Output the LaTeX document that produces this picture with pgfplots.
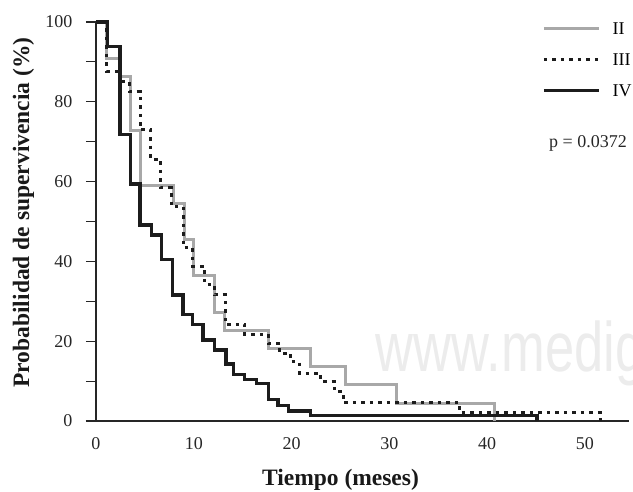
\documentclass[border=0pt]{standalone}
\usepackage{fontspec}
\setmainfont{Liberation Serif}
\newfontfamily\wmfont{Liberation Sans}
\usepackage{pgfplots}
\pgfplotsset{compat=1.18}
\definecolor{grayII}{HTML}{A8A8A8}
\definecolor{blackIV}{HTML}{1C1C1C}
\definecolor{wm}{HTML}{ECECEC}
\begin{document}
\begin{tikzpicture}
\useasboundingbox (-96pt,-70pt) rectangle (537pt,421pt);
\begin{axis}[
  scale only axis, width=533pt, height=399pt,
  xmin=0, xmax=54.5, ymin=0, ymax=100,
  axis x line*=bottom, axis y line*=left,
  axis line style={line width=1.1pt, color=black!85},
  x axis line style={shorten <=-10pt},
  xtick={0,10,...,50}, ytick={0,20,...,100}, minor ytick={10,30,...,90},
  x tick style={draw=none},
  y tick style={line width=1.1pt, color=black!85},
  tick align=outside, major tick length=10pt, minor tick length=10pt,
  ticklabel style={font=\fontsize{18}{20}\selectfont, text=black!85},
  /pgf/number format/assume math mode=true,
  xticklabel style={anchor=base, yshift=-18.5pt},
  xticklabel pos=lower,
  yticklabel style={anchor=east, xshift=-10pt},
  xlabel={\textbf{Tiempo (meses)}},
  ylabel={\textbf{Probabilidad de supervivencia (\%)}},
  label style={font=\fontsize{23.5}{26}\selectfont, text=black!90},
  xlabel style={at={(rel axis cs:0.4587,-0.16216)}, anchor=base},
  ylabel style={at={(rel axis cs:-0.1253,0.5226)}, anchor=base, rotate=0},
  legend image code/.code={\draw[#1] (0pt,0pt) -- (55pt,0pt);},
  legend style={at={(rel axis cs:0.8375,0.998)}, anchor=north west, draw=none, fill=none,
    inner sep=0pt, outer sep=0pt, row sep=19pt,
    font=\fontsize{18}{20}\selectfont,
    nodes={inner sep=0pt, text height=12pt, text depth=0pt},
    /tikz/every odd column/.append style={column sep=12pt}},
  legend cell align=left,
  clip=false,
]
\node[anchor=base west, inner sep=0pt, text=wm] at (axis cs:28.6,12.3)
  {\scalebox{0.75}[1]{\wmfont\fontsize{70}{70}\selectfont www.medigraphic.org.mx}};
\addplot[const plot, color=grayII, line width=3pt] coordinates {
(0,100) (1.1,90.9) (2.45,86.4) (3.5,72.7) (4.5,59.1) (7.9,54.5) (9.0,45.5)
(10.0,36.4) (12.1,27.3) (13.1,22.7) (17.6,18.2) (21.9,13.6) (25.5,9.1)
(30.7,4.5) (40.7,0)};
\addlegendentry{II}
\addplot[const plot, color=blackIV, line width=3pt, dash pattern=on 3.5pt off 5pt] coordinates {
(0,100) (1.1,87.7) (2.5,85.0) (3.4,82.5) (4.5,73.0) (5.6,65.6) (6.6,58.5)
(7.7,53.7) (8.9,43.4) (9.9,38.8) (11.1,34.3) (12.1,31.6) (13.2,24.3)
(15.2,21.8) (17.6,19.5) (18.8,17.0) (19.9,14.8) (20.8,12.0) (23.0,9.9)
(24.4,7.3) (25.3,4.6) (37.2,2.1) (51.6,0)};
\addlegendentry{III}
\addplot[const plot, color=blackIV, line width=3.2pt] coordinates {
(0,100) (1.2,93.8) (2.45,71.9) (3.55,59.4) (4.5,49.1) (5.7,46.6) (6.7,40.4)
(7.8,31.6) (8.9,26.6) (9.9,24.1) (10.95,20.3) (12.1,17.8) (13.3,14.3)
(14.1,11.6) (15.2,10.5) (16.4,9.4) (17.6,5.3) (18.6,3.9) (19.7,2.5)
(21.9,1.3) (45.1,0)};
\addlegendentry{IV}
\node[font=\fontsize{18}{20}\selectfont, text=black!85, inner sep=0pt] at (axis cs:50.3,69.6) {p = 0.0372};
\end{axis}
\end{tikzpicture}
\end{document}
